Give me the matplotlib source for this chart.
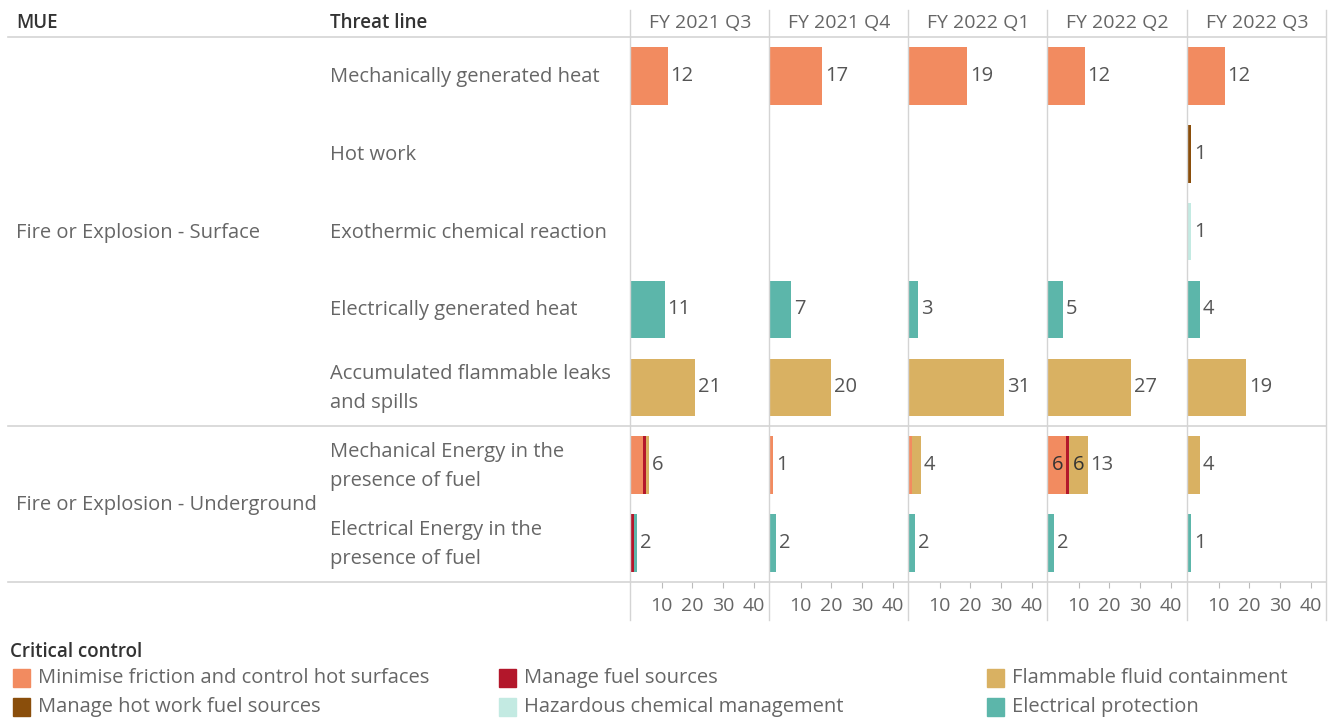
import matplotlib
matplotlib.use("Agg")
import matplotlib.pyplot as plt
from matplotlib.lines import Line2D
from matplotlib.patches import Rectangle

plt.rcParams['font.family'] = ['Open Sans', 'DejaVu Sans']

W, H = 1335, 719

quarters = ["FY 2021 Q3", "FY 2021 Q4", "FY 2022 Q1", "FY 2022 Q2", "FY 2022 Q3"]
mue = ["Fire or Explosion - Surface", "Fire or Explosion - Underground"]
mue_rows = [5, 2]
threats = ["Mechanically generated heat", "Hot work", "Exothermic chemical reaction",
           "Electrically generated heat", "Accumulated flammable leaks\nand spills",
           "Mechanical Energy in the\npresence of fuel", "Electrical Energy in the\npresence of fuel"]

controls = ["Minimise friction and control hot surfaces", "Manage fuel sources",
            "Flammable fluid containment", "Manage hot work fuel sources",
            "Hazardous chemical management", "Electrical protection"]
colors = ["#F28B60", "#B3172B", "#D9B162", "#8A4E0B", "#C3EAE2", "#5CB6AA"]

# values[control][threat row][quarter]
minimise_friction = [[12, 17, 19, 12, 12], [0, 0, 0, 0, 0], [0, 0, 0, 0, 0], [0, 0, 0, 0, 0],
                     [0, 0, 0, 0, 0], [4, 1, 1, 6, 0], [0, 0, 0, 0, 0]]
manage_fuel = [[0, 0, 0, 0, 0], [0, 0, 0, 0, 0], [0, 0, 0, 0, 0], [0, 0, 0, 0, 0],
               [0, 0, 0, 0, 0], [1, 0, 0, 1, 0], [1, 0, 0, 0, 0]]
flammable_fluid = [[0, 0, 0, 0, 0], [0, 0, 0, 0, 0], [0, 0, 0, 0, 0], [0, 0, 0, 0, 0],
                   [21, 20, 31, 27, 19], [1, 0, 3, 6, 4], [0, 0, 0, 0, 0]]
hot_work_fuel = [[0, 0, 0, 0, 0], [0, 0, 0, 0, 1], [0, 0, 0, 0, 0], [0, 0, 0, 0, 0],
                 [0, 0, 0, 0, 0], [0, 0, 0, 0, 0], [0, 0, 0, 0, 0]]
hazardous_chem = [[0, 0, 0, 0, 0], [0, 0, 0, 0, 0], [0, 0, 0, 0, 1], [0, 0, 0, 0, 0],
                  [0, 0, 0, 0, 0], [0, 0, 0, 0, 0], [0, 0, 0, 0, 0]]
electrical_prot = [[0, 0, 0, 0, 0], [0, 0, 0, 0, 0], [0, 0, 0, 0, 0], [11, 7, 3, 5, 4],
                   [0, 0, 0, 0, 0], [0, 0, 0, 0, 0], [1, 2, 2, 2, 1]]
series = [minimise_friction, manage_fuel, flammable_fluid, hot_work_fuel, hazardous_chem, electrical_prot]

x_ticks = [10, 20, 30, 40]
XMAX = 45

fig = plt.figure(figsize=(W / 100, H / 100), dpi=100)

def fx(x):
    return x / W

def fy(y):
    return 1 - y / H

GRID = "#d4d4d4"
TXT = "#666666"
LAB = "#555555"
FS = 14.5

top, bottom = 37, 582
row_h = (bottom - top) / 7
panel_left = [631, 770, 909, 1048, 1188]
panel_w = 138

def hline(y, x0, x1, c=GRID, lw=1.2):
    fig.add_artist(Line2D([fx(x0), fx(x1)], [fy(y), fy(y)], color=c, lw=lw, transform=fig.transFigure))

def vline(x, y0, y1, c=GRID, lw=1.0):
    fig.add_artist(Line2D([fx(x), fx(x)], [fy(y0), fy(y1)], color=c, lw=lw, transform=fig.transFigure))

for qi, q in enumerate(quarters):
    ax = fig.add_axes([fx(panel_left[qi]), fy(bottom), fx(panel_w), (bottom - top) / H])
    ax.set_xlim(0, XMAX)
    ax.set_ylim(7, 0)
    for s in ax.spines.values():
        s.set_visible(False)
    ax.set_yticks([])
    ax.set_xticks(x_ticks)
    ax.set_xticklabels([str(t) for t in x_ticks])
    ax.tick_params(axis='x', direction='out', length=4, width=0.8, color="#bbbbbb",
                   labelcolor=TXT, labelsize=14, pad=7)
    ax.patch.set_alpha(0)
    for r in range(7):
        left = 0
        segs = [(ci, series[ci][r][qi]) for ci in range(len(controls)) if series[ci][r][qi] > 0]
        for ci, v in segs:
            ax.barh(r + 0.5, v, left=left, height=0.74, color=colors[ci], edgecolor='none')
            if len(segs) > 1 and v >= 5:
                ax.text(left + v / 2, r + 0.5, str(v), ha='center', va='center',
                        fontsize=FS, color="#333333")
            left += v
        if left > 0:
            ax.text(left + 0.9, r + 0.5, str(left), ha='left', va='center',
                    fontsize=FS, color=LAB)
    fig.text(fx(panel_left[qi] + panel_w / 2), fy(23), q, ha='center', va='center',
             fontsize=14, color=TXT)

# grid lines
hline(top, 8, 1326)
hline(top + 5 * row_h, 8, 1326)
hline(bottom, 8, 1326)
for x in [630, 769, 908, 1047, 1187, 1326]:
    vline(x, 10, 620)

# headers
fig.text(fx(16), fy(23), "MUE", ha='left', va='center', fontsize=13.5, color="#333333",
         fontweight='semibold')
fig.text(fx(330), fy(23), "Threat line", ha='left', va='center', fontsize=13.5, color="#333333",
         fontweight='semibold')

# row labels
for r, t in enumerate(threats):
    fig.text(fx(330), fy(top + (r + 0.5) * row_h + 1), t, ha='left', va='center', fontsize=FS,
             color=TXT, linespacing=1.6)
start = 0
for m, n in zip(mue, mue_rows):
    fig.text(fx(16), fy(top + (start + n / 2) * row_h + 1), m, ha='left', va='center',
             fontsize=FS, color=TXT)
    start += n

# legend
fig.text(fx(10), fy(652), "Critical control", ha='left', va='center', fontsize=13.5,
         color="#333333", fontweight='semibold')
leg_x = [13, 499, 987]
leg_y = [678, 707]
for k, ci in enumerate(range(len(controls))):
    col = k % 3
    row = k // 3
    x0 = leg_x[col]
    y0 = leg_y[row]
    fig.add_artist(Rectangle((fx(x0), fy(y0 + 9)), fx(17), 18 / H, color=colors[ci],
                             transform=fig.transFigure))
    fig.text(fx(x0 + 25), fy(y0), controls[ci], ha='left', va='center', fontsize=FS,
             color=TXT)

fig.savefig("out.png", dpi=100)
